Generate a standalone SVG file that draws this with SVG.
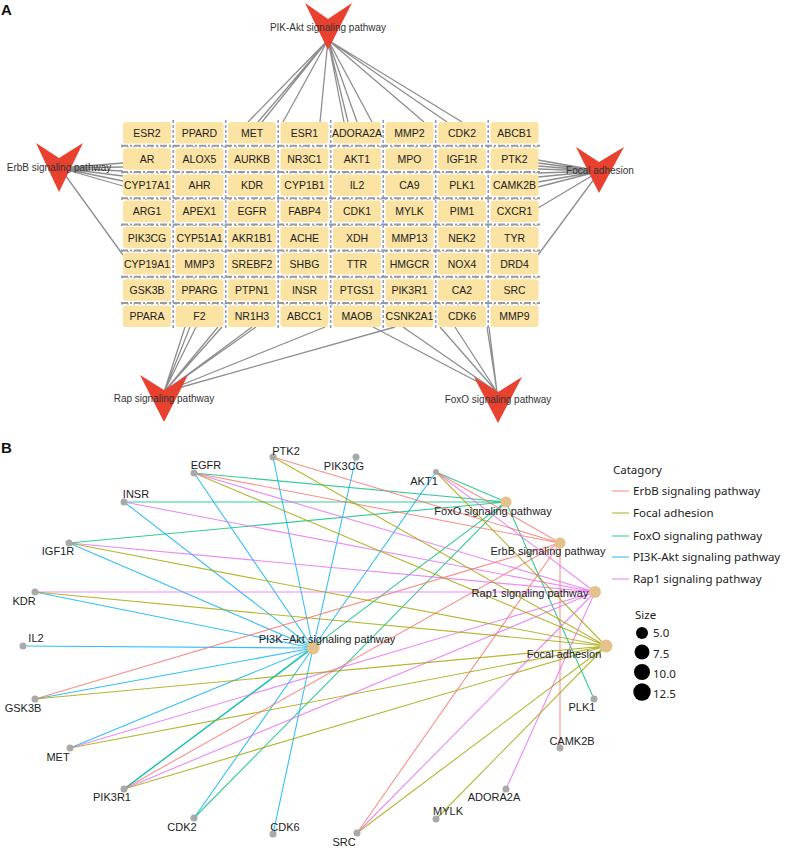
<svg xmlns="http://www.w3.org/2000/svg" width="792" height="855" viewBox="0 0 792 855">
<style>
.bg{fill:#fff}
.panel{font-family:"Liberation Sans",Arial,sans-serif;font-weight:bold;font-size:15px;fill:#111}
.ge rect{fill:#FBE3A3;stroke:none}
.ge text{font-family:"Liberation Sans",Arial,sans-serif;font-size:10.5px;fill:#222;text-anchor:middle}
.pw polygon{fill:#E8412F}
.pw text{font-family:"Liberation Sans",Arial,sans-serif;font-size:10px;fill:#333;text-anchor:middle}
.ae{stroke:#8e8e8e;stroke-width:1.3;fill:none}
.gapv{stroke:#8f9dc2;stroke-width:1.6;stroke-dasharray:3 2;fill:none}
.gaph{stroke:#9a9a9a;stroke-width:2;stroke-dasharray:7 2 2 2;fill:none}
.gaph2{stroke:#8f9dc2;stroke-width:1;stroke-dasharray:2 4;fill:none}
.be{stroke-width:1.1;fill:none;stroke-opacity:0.8}
.er{stroke:#F8766D}.fa{stroke:#A3A500}.fo{stroke:#00BF7D}.pi{stroke:#00B0F6}.ra{stroke:#E76BF3}
.gn circle{fill:#A9A9A9}
.pn circle{fill:#E5C28B}
.lb{font-family:"Liberation Sans",Arial,sans-serif;font-size:11px;fill:#222;text-anchor:middle}
.lg{font-family:"Noto Sans","Liberation Sans",sans-serif;font-size:11.5px;fill:#222}
</style>
<rect class="bg" x="0" y="0" width="792" height="855"/>
<text class="panel" x="1" y="15">A</text>
<text class="panel" x="1" y="453">B</text>

<!-- Panel A connectors -->
<g id="connectors-a">
<g class="ae">
<path d="M328 40L248 122M328 40L258 122M328 40L262 122M328 40L283 122M328 40L320 122M328 40L344 122M328 40L348 122M328 40L357 122M328 40L372 122M328 40L424 122M328 40L447 122M328 40L462 122"/>
<path d="M60 168L123 163M60 168L123 167M60 168L123 171M60 168L123 176M60 168L123 181M60 168L123 186M60 168L123 255"/>
<path d="M600 171L538 160M600 171L538 163M600 171L538 166M600 171L538 169M600 171L538 173M600 171L538 177M600 171L538 182M600 171L538 187M600 171L538 208M600 171L538 255"/>
<path d="M164 392L185 327M164 392L190 327M164 392L196 327M164 392L218 327M164 392L222 327M164 392L252 327M164 392L256 327M164 392L325 327M164 392L395 327"/>
<path d="M497 392L373 327M497 392L403 327M497 392L440 327M497 392L455 327M497 392L487 327M497 392L489 327"/>
</g>
<g class="gapv">
<path d="M173.2 120V328M225.7 120V328M278.2 120V328M330.7 120V328M383.2 120V328M435.7 120V328M488.2 120V328"/>
</g>
<g class="gaph">
<path d="M121 145.8H540M121 172H540M121 198.2H540M121 224.4H540M121 250.6H540M121 276.8H540M121 303H540"/>
</g>
<g class="gaph2">
<path d="M121 146.8H540M121 173H540M121 199.2H540M121 225.4H540M121 251.6H540M121 277.8H540M121 304H540"/>
</g>
</g>

<!-- Panel A gene nodes -->
<g id="a-ESR2" class="ge"><rect x="123" y="122" width="48" height="21.5" rx="3"/><text x="147" y="136.7">ESR2</text></g>
<g id="a-PPARD" class="ge"><rect x="175.5" y="122" width="48" height="21.5" rx="3"/><text x="199.5" y="136.7">PPARD</text></g>
<g id="a-MET" class="ge"><rect x="228" y="122" width="48" height="21.5" rx="3"/><text x="252" y="136.7">MET</text></g>
<g id="a-ESR1" class="ge"><rect x="280.5" y="122" width="48" height="21.5" rx="3"/><text x="304.5" y="136.7">ESR1</text></g>
<g id="a-ADORA2A" class="ge"><rect x="333" y="122" width="48" height="21.5" rx="3"/><text x="357" y="136.7">ADORA2A</text></g>
<g id="a-MMP2" class="ge"><rect x="385.5" y="122" width="48" height="21.5" rx="3"/><text x="409.5" y="136.7">MMP2</text></g>
<g id="a-CDK2" class="ge"><rect x="438" y="122" width="48" height="21.5" rx="3"/><text x="462" y="136.7">CDK2</text></g>
<g id="a-ABCB1" class="ge"><rect x="490.5" y="122" width="48" height="21.5" rx="3"/><text x="514.5" y="136.7">ABCB1</text></g>

<g id="a-AR" class="ge"><rect x="123" y="148.2" width="48" height="21.5" rx="3"/><text x="147" y="162.9">AR</text></g>
<g id="a-ALOX5" class="ge"><rect x="175.5" y="148.2" width="48" height="21.5" rx="3"/><text x="199.5" y="162.9">ALOX5</text></g>
<g id="a-AURKB" class="ge"><rect x="228" y="148.2" width="48" height="21.5" rx="3"/><text x="252" y="162.9">AURKB</text></g>
<g id="a-NR3C1" class="ge"><rect x="280.5" y="148.2" width="48" height="21.5" rx="3"/><text x="304.5" y="162.9">NR3C1</text></g>
<g id="a-AKT1" class="ge"><rect x="333" y="148.2" width="48" height="21.5" rx="3"/><text x="357" y="162.9">AKT1</text></g>
<g id="a-MPO" class="ge"><rect x="385.5" y="148.2" width="48" height="21.5" rx="3"/><text x="409.5" y="162.9">MPO</text></g>
<g id="a-IGF1R" class="ge"><rect x="438" y="148.2" width="48" height="21.5" rx="3"/><text x="462" y="162.9">IGF1R</text></g>
<g id="a-PTK2" class="ge"><rect x="490.5" y="148.2" width="48" height="21.5" rx="3"/><text x="514.5" y="162.9">PTK2</text></g>

<g id="a-CYP17A1" class="ge"><rect x="123" y="174.4" width="48" height="21.5" rx="3"/><text x="147" y="189.1">CYP17A1</text></g>
<g id="a-AHR" class="ge"><rect x="175.5" y="174.4" width="48" height="21.5" rx="3"/><text x="199.5" y="189.1">AHR</text></g>
<g id="a-KDR" class="ge"><rect x="228" y="174.4" width="48" height="21.5" rx="3"/><text x="252" y="189.1">KDR</text></g>
<g id="a-CYP1B1" class="ge"><rect x="280.5" y="174.4" width="48" height="21.5" rx="3"/><text x="304.5" y="189.1">CYP1B1</text></g>
<g id="a-IL2" class="ge"><rect x="333" y="174.4" width="48" height="21.5" rx="3"/><text x="357" y="189.1">IL2</text></g>
<g id="a-CA9" class="ge"><rect x="385.5" y="174.4" width="48" height="21.5" rx="3"/><text x="409.5" y="189.1">CA9</text></g>
<g id="a-PLK1" class="ge"><rect x="438" y="174.4" width="48" height="21.5" rx="3"/><text x="462" y="189.1">PLK1</text></g>
<g id="a-CAMK2B" class="ge"><rect x="490.5" y="174.4" width="48" height="21.5" rx="3"/><text x="514.5" y="189.1">CAMK2B</text></g>

<g id="a-ARG1" class="ge"><rect x="123" y="200.6" width="48" height="21.5" rx="3"/><text x="147" y="215.3">ARG1</text></g>
<g id="a-APEX1" class="ge"><rect x="175.5" y="200.6" width="48" height="21.5" rx="3"/><text x="199.5" y="215.3">APEX1</text></g>
<g id="a-EGFR" class="ge"><rect x="228" y="200.6" width="48" height="21.5" rx="3"/><text x="252" y="215.3">EGFR</text></g>
<g id="a-FABP4" class="ge"><rect x="280.5" y="200.6" width="48" height="21.5" rx="3"/><text x="304.5" y="215.3">FABP4</text></g>
<g id="a-CDK1" class="ge"><rect x="333" y="200.6" width="48" height="21.5" rx="3"/><text x="357" y="215.3">CDK1</text></g>
<g id="a-MYLK" class="ge"><rect x="385.5" y="200.6" width="48" height="21.5" rx="3"/><text x="409.5" y="215.3">MYLK</text></g>
<g id="a-PIM1" class="ge"><rect x="438" y="200.6" width="48" height="21.5" rx="3"/><text x="462" y="215.3">PIM1</text></g>
<g id="a-CXCR1" class="ge"><rect x="490.5" y="200.6" width="48" height="21.5" rx="3"/><text x="514.5" y="215.3">CXCR1</text></g>

<g id="a-PIK3CG" class="ge"><rect x="123" y="226.8" width="48" height="21.5" rx="3"/><text x="147" y="241.5">PIK3CG</text></g>
<g id="a-CYP51A1" class="ge"><rect x="175.5" y="226.8" width="48" height="21.5" rx="3"/><text x="199.5" y="241.5">CYP51A1</text></g>
<g id="a-AKR1B1" class="ge"><rect x="228" y="226.8" width="48" height="21.5" rx="3"/><text x="252" y="241.5">AKR1B1</text></g>
<g id="a-ACHE" class="ge"><rect x="280.5" y="226.8" width="48" height="21.5" rx="3"/><text x="304.5" y="241.5">ACHE</text></g>
<g id="a-XDH" class="ge"><rect x="333" y="226.8" width="48" height="21.5" rx="3"/><text x="357" y="241.5">XDH</text></g>
<g id="a-MMP13" class="ge"><rect x="385.5" y="226.8" width="48" height="21.5" rx="3"/><text x="409.5" y="241.5">MMP13</text></g>
<g id="a-NEK2" class="ge"><rect x="438" y="226.8" width="48" height="21.5" rx="3"/><text x="462" y="241.5">NEK2</text></g>
<g id="a-TYR" class="ge"><rect x="490.5" y="226.8" width="48" height="21.5" rx="3"/><text x="514.5" y="241.5">TYR</text></g>

<g id="a-CYP19A1" class="ge"><rect x="123" y="253" width="48" height="21.5" rx="3"/><text x="147" y="267.7">CYP19A1</text></g>
<g id="a-MMP3" class="ge"><rect x="175.5" y="253" width="48" height="21.5" rx="3"/><text x="199.5" y="267.7">MMP3</text></g>
<g id="a-SREBF2" class="ge"><rect x="228" y="253" width="48" height="21.5" rx="3"/><text x="252" y="267.7">SREBF2</text></g>
<g id="a-SHBG" class="ge"><rect x="280.5" y="253" width="48" height="21.5" rx="3"/><text x="304.5" y="267.7">SHBG</text></g>
<g id="a-TTR" class="ge"><rect x="333" y="253" width="48" height="21.5" rx="3"/><text x="357" y="267.7">TTR</text></g>
<g id="a-HMGCR" class="ge"><rect x="385.5" y="253" width="48" height="21.5" rx="3"/><text x="409.5" y="267.7">HMGCR</text></g>
<g id="a-NOX4" class="ge"><rect x="438" y="253" width="48" height="21.5" rx="3"/><text x="462" y="267.7">NOX4</text></g>
<g id="a-DRD4" class="ge"><rect x="490.5" y="253" width="48" height="21.5" rx="3"/><text x="514.5" y="267.7">DRD4</text></g>

<g id="a-GSK3B" class="ge"><rect x="123" y="279.2" width="48" height="21.5" rx="3"/><text x="147" y="293.9">GSK3B</text></g>
<g id="a-PPARG" class="ge"><rect x="175.5" y="279.2" width="48" height="21.5" rx="3"/><text x="199.5" y="293.9">PPARG</text></g>
<g id="a-PTPN1" class="ge"><rect x="228" y="279.2" width="48" height="21.5" rx="3"/><text x="252" y="293.9">PTPN1</text></g>
<g id="a-INSR" class="ge"><rect x="280.5" y="279.2" width="48" height="21.5" rx="3"/><text x="304.5" y="293.9">INSR</text></g>
<g id="a-PTGS1" class="ge"><rect x="333" y="279.2" width="48" height="21.5" rx="3"/><text x="357" y="293.9">PTGS1</text></g>
<g id="a-PIK3R1" class="ge"><rect x="385.5" y="279.2" width="48" height="21.5" rx="3"/><text x="409.5" y="293.9">PIK3R1</text></g>
<g id="a-CA2" class="ge"><rect x="438" y="279.2" width="48" height="21.5" rx="3"/><text x="462" y="293.9">CA2</text></g>
<g id="a-SRC" class="ge"><rect x="490.5" y="279.2" width="48" height="21.5" rx="3"/><text x="514.5" y="293.9">SRC</text></g>

<g id="a-PPARA" class="ge"><rect x="123" y="305.4" width="48" height="21.5" rx="3"/><text x="147" y="320.1">PPARA</text></g>
<g id="a-F2" class="ge"><rect x="175.5" y="305.4" width="48" height="21.5" rx="3"/><text x="199.5" y="320.1">F2</text></g>
<g id="a-NR1H3" class="ge"><rect x="228" y="305.4" width="48" height="21.5" rx="3"/><text x="252" y="320.1">NR1H3</text></g>
<g id="a-ABCC1" class="ge"><rect x="280.5" y="305.4" width="48" height="21.5" rx="3"/><text x="304.5" y="320.1">ABCC1</text></g>
<g id="a-MAOB" class="ge"><rect x="333" y="305.4" width="48" height="21.5" rx="3"/><text x="357" y="320.1">MAOB</text></g>
<g id="a-CSNK2A1" class="ge"><rect x="385.5" y="305.4" width="48" height="21.5" rx="3"/><text x="409.5" y="320.1">CSNK2A1</text></g>
<g id="a-CDK6" class="ge"><rect x="438" y="305.4" width="48" height="21.5" rx="3"/><text x="462" y="320.1">CDK6</text></g>
<g id="a-MMP9" class="ge"><rect x="490.5" y="305.4" width="48" height="21.5" rx="3"/><text x="514.5" y="320.1">MMP9</text></g>

<!-- Panel A pathway nodes -->
<g id="a-pik-akt" class="pw"><polygon points="305,3 328,19 352,3 328,50"/><text x="328" y="31">PIK-Akt signaling pathway</text></g>
<g id="a-erbb" class="pw"><polygon points="36,143 59,158 83,143 59,192"/><text x="59" y="171">ErbB signaling pathway</text></g>
<g id="a-focal" class="pw"><polygon points="576,147 599,162 624,147 599,193"/><text x="600" y="174">Focal adhesion</text></g>
<g id="a-rap" class="pw"><polygon points="140,375 164,390 188,375 164,422"/><text x="164" y="402">Rap signaling pathway</text></g>
<g id="a-foxo" class="pw"><polygon points="474,377 498,392 522,377 498,423"/><text x="498" y="403">FoxO signaling pathway</text></g>

<!-- Panel B connectors -->
<g id="connectors-b" class="be">
<path class="pi" d="M273 457L313 648M356 457L313 648M194 473L313 648M124 502L313 648M69 543L313 648M35 592L313 648M23 646L313 648M436 472L313 648M35 699L313 648M70 748L313 648M124 789L313 648M194 818L313 648M273 834L313 648"/>
<path class="fo" d="M194 473L506 502M124 502L506 502M69 543L506 502M436 472L506 502M124 789L506 502M194 818L506 502M594 699L506 502"/>
<path class="er" d="M273 457L560 543M194 473L560 543M436 472L560 543M35 699L560 543M124 789L560 543M357 833L560 543M560 748L560 543"/>
<path class="ra" d="M194 473L595 592M124 502L595 592M69 543L595 592M35 592L595 592M436 472L595 592M70 748L595 592M124 789L595 592M357 833L595 592M506 789L595 592"/>
<path class="fa" d="M273 457L606 646M194 473L606 646M69 543L606 646M35 592L606 646M436 472L606 646M35 699L606 646M70 748L606 646M124 789L606 646M357 833L606 646M436 819L606 646"/>
</g>

<!-- Panel B gene nodes -->
<g id="b-PTK2" class="gn"><circle cx="273" cy="457" r="3.5"/><text class="lb" x="286" y="455">PTK2</text></g>
<g id="b-PIK3CG" class="gn"><circle cx="356" cy="457" r="3.5"/><text class="lb" x="344" y="470">PIK3CG</text></g>
<g id="b-EGFR" class="gn"><circle cx="194" cy="473" r="3.5"/><text class="lb" x="206" y="469">EGFR</text></g>
<g id="b-INSR" class="gn"><circle cx="124" cy="502" r="3.5"/><text class="lb" x="136" y="498">INSR</text></g>
<g id="b-IGF1R" class="gn"><circle cx="69" cy="543" r="3.5"/><text class="lb" x="58" y="555">IGF1R</text></g>
<g id="b-KDR" class="gn"><circle cx="35" cy="592" r="3.5"/><text class="lb" x="24" y="605">KDR</text></g>
<g id="b-IL2" class="gn"><circle cx="23" cy="646" r="3.5"/><text class="lb" x="36" y="642">IL2</text></g>
<g id="b-AKT1" class="gn"><circle cx="436" cy="472" r="3"/><text class="lb" x="424" y="485">AKT1</text></g>
<g id="b-GSK3B" class="gn"><circle cx="35" cy="699" r="3.5"/><text class="lb" x="23" y="712">GSK3B</text></g>
<g id="b-MET" class="gn"><circle cx="70" cy="748" r="3.5"/><text class="lb" x="58" y="761">MET</text></g>
<g id="b-PIK3R1" class="gn"><circle cx="124" cy="789" r="3.5"/><text class="lb" x="112" y="801">PIK3R1</text></g>
<g id="b-CDK2" class="gn"><circle cx="194" cy="818" r="3.5"/><text class="lb" x="182" y="831">CDK2</text></g>
<g id="b-CDK6" class="gn"><circle cx="273" cy="834" r="3.5"/><text class="lb" x="285" y="831">CDK6</text></g>
<g id="b-SRC" class="gn"><circle cx="357" cy="833" r="3.5"/><text class="lb" x="344" y="846">SRC</text></g>
<g id="b-MYLK" class="gn"><circle cx="436" cy="819" r="3.5"/><text class="lb" x="448" y="815">MYLK</text></g>
<g id="b-ADORA2A" class="gn"><circle cx="506" cy="789" r="3.5"/><text class="lb" x="494" y="801">ADORA2A</text></g>
<g id="b-CAMK2B" class="gn"><circle cx="560" cy="748" r="3.5"/><text class="lb" x="572" y="745">CAMK2B</text></g>
<g id="b-PLK1" class="gn"><circle cx="594" cy="699" r="3.5"/><text class="lb" x="582" y="711">PLK1</text></g>

<!-- Panel B pathway nodes -->
<g id="b-pi3k" class="pn"><circle cx="313" cy="648" r="6.5"/><text class="lb" x="327" y="643">PI3K−Akt signaling pathway</text></g>
<g id="b-foxo" class="pn"><circle cx="506" cy="502" r="5.5"/><text class="lb" x="493" y="515">FoxO signaling pathway</text></g>
<g id="b-erbb" class="pn"><circle cx="560" cy="543" r="5.5"/><text class="lb" x="548" y="555">ErbB signaling pathway</text></g>
<g id="b-rap1" class="pn"><circle cx="595" cy="592" r="6"/><text class="lb" x="530" y="597">Rap1 signaling pathway</text></g>
<g id="b-focal" class="pn"><circle cx="606" cy="646" r="6.5"/><text class="lb" x="564" y="658">Focal adhesion</text></g>

<!-- Legend -->
<g id="legend">
<text class="lg" x="613" y="474">Catagory</text>
<line class="be er" x1="612" y1="491" x2="629" y2="491"/><text class="lg" x="633" y="495">ErbB signaling pathway</text>
<line class="be fa" x1="612" y1="513" x2="629" y2="513"/><text class="lg" x="633" y="517">Focal adhesion</text>
<line class="be fo" x1="612" y1="536" x2="629" y2="536"/><text class="lg" x="633" y="540">FoxO signaling pathway</text>
<line class="be pi" x1="612" y1="557" x2="629" y2="557"/><text class="lg" x="633" y="561">PI3K-Akt signaling pathway</text>
<line class="be ra" x1="612" y1="579" x2="629" y2="579"/><text class="lg" x="633" y="583">Rap1 signaling pathway</text>
<text class="lg" x="635" y="619">Size</text>
<circle cx="642" cy="633" r="6" fill="#000"/><text class="lg" x="653" y="637">5.0</text>
<circle cx="642" cy="652" r="7.5" fill="#000"/><text class="lg" x="653" y="658">7.5</text>
<circle cx="642" cy="672" r="8" fill="#000"/><text class="lg" x="653" y="678">10.0</text>
<circle cx="642" cy="692" r="8.7" fill="#000"/><text class="lg" x="653" y="698">12.5</text>
</g>
</svg>
